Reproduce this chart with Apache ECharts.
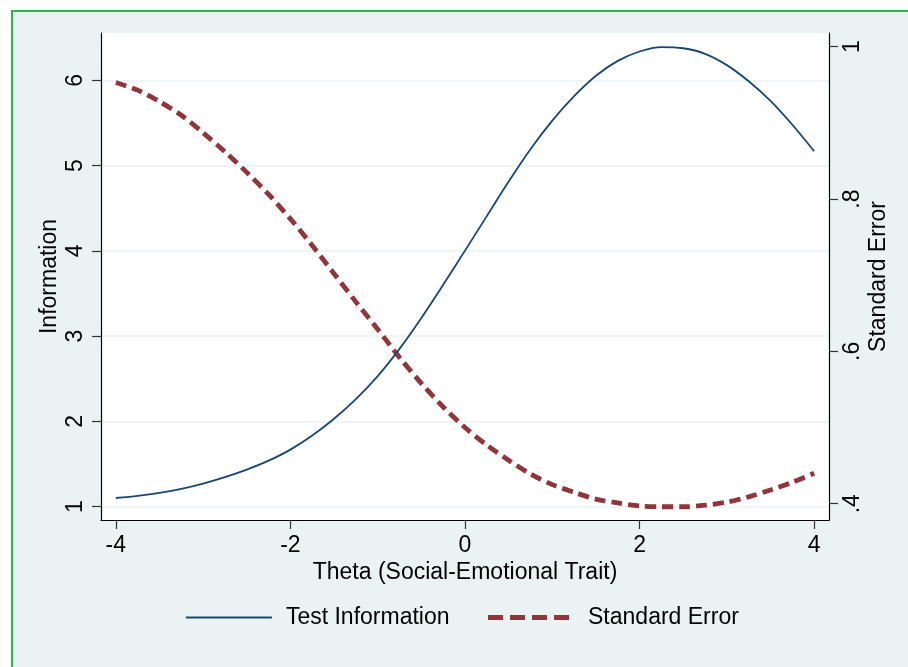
<!DOCTYPE html>
<html>
<head>
<meta charset="utf-8">
<script src="https://cdn.jsdelivr.net/npm/echarts@6/dist/echarts.min.js"></script>
<style>
  html, body { margin: 0; padding: 0; background: #ffffff; }
  #frame { position: absolute; left: 11px; top: 10px; width: 1000px; height: 1000px;
           background: #EAF2F3; border-left: 2px solid #2FB350; border-top: 2px solid #2FB350; box-sizing: border-box; }
  #chart { position: absolute; left: 0; top: 0; width: 908px; height: 667px; }
</style>
</head>
<body>
<div id="frame"></div>
<div id="chart"></div>
<script>
// Theta grid and values
var theta = [-4, -3.75, -3.5, -3.25, -3, -2.75, -2.5, -2.25, -2, -1.75, -1.5, -1.25, -1, -0.75, -0.5, -0.25,
             0, 0.25, 0.5, 0.75, 1, 1.25, 1.5, 1.75, 2, 2.25, 2.5, 2.75, 3, 3.25, 3.5, 3.75, 4];
var testInformation = [1.100, 1.125, 1.160, 1.208, 1.270, 1.345, 1.433, 1.538, 1.668, 1.833, 2.030, 2.260, 2.530, 2.850, 3.213, 3.603,
                       4.003, 4.408, 4.813, 5.193, 5.528, 5.815, 6.055, 6.230, 6.340, 6.392, 6.378, 6.313, 6.180, 5.990, 5.760, 5.480, 5.170];
var standardError = [0.953, 0.943, 0.928, 0.910, 0.887, 0.862, 0.835, 0.806, 0.774, 0.739, 0.702, 0.665, 0.629, 0.592, 0.558, 0.527,
                     0.500, 0.477, 0.457, 0.439, 0.425, 0.415, 0.406, 0.401, 0.397, 0.396, 0.396, 0.398, 0.402, 0.409, 0.418, 0.428, 0.440];

var xTicks = [-4, -2, 0, 2, 4];
var infoTicks = [1, 2, 3, 4, 5, 6];
var seTicks = [0.4, 0.6, 0.8, 1];
var seTickLabels = ['.4', '.6', '.8', '1'];

var FONT = "'Liberation Sans', Arial, Helvetica, sans-serif";
var FS = 23;
var BLUE = '#1A476F';
var RED = '#90353B';

function pairs(xs, ys) { return xs.map(function (x, i) { return [x, ys[i]]; }); }

var chart = echarts.init(document.getElementById('chart'), null, { renderer: 'canvas' });
chart.setOption({
  backgroundColor: 'transparent',
  animation: false,
  textStyle: { fontFamily: FONT, color: '#000' },
  grid: {
    left: 101, top: 33, width: 728, height: 487,
    show: true, backgroundColor: '#ffffff', borderWidth: 0
  },
  xAxis: {
    type: 'value', min: -4.17, max: 4.17,
    name: 'Theta (Social-Emotional Trait)', nameLocation: 'middle', nameGap: 41, nameMoveOverlap: false,
    nameTextStyle: { fontSize: FS, color: '#000', fontFamily: FONT },
    axisLine: { show: true, onZero: false, lineStyle: { color: '#000', width: 1.2 } },
    axisTick: { show: true, length: 9, customValues: xTicks, lineStyle: { color: '#333', width: 1.2 } },
    axisLabel: { customValues: xTicks, fontSize: FS, color: '#000', margin: 14, fontFamily: FONT },
    splitLine: { show: false }
  },
  yAxis: [
    {
      type: 'value', position: 'left', min: 0.842, max: 6.557,
      name: 'Information', nameLocation: 'middle', nameGap: 40, nameMoveOverlap: false,
      nameTextStyle: { fontSize: FS, color: '#000', fontFamily: FONT },
      axisLine: { show: true, onZero: false, lineStyle: { color: '#000', width: 1.2 } },
      axisTick: { show: true, length: 9, customValues: infoTicks, lineStyle: { color: '#333', width: 1.2 } },
      axisLabel: { customValues: infoTicks, rotate: 90, fontSize: FS, color: '#000', margin: 14, fontFamily: FONT },
      splitLine: { show: true, lineStyle: { color: '#EAF2F3', width: 1.5 } }
    },
    {
      type: 'value', position: 'right', min: 0.3786, max: 1.018,
      name: 'Standard Error', nameLocation: 'middle', nameGap: 38, nameMoveOverlap: false,
      nameTextStyle: { fontSize: FS, color: '#000', fontFamily: FONT },
      axisLine: { show: true, onZero: false, lineStyle: { color: '#000', width: 1.2 } },
      axisTick: { show: true, length: 9, customValues: seTicks, lineStyle: { color: '#333', width: 1.2 } },
      axisLabel: {
        customValues: seTicks, rotate: 90, fontSize: FS, color: '#000', margin: 12, fontFamily: FONT,
        formatter: function (v) {
          for (var i = 0; i < seTicks.length; i++) { if (Math.abs(seTicks[i] - v) < 1e-6) return seTickLabels[i]; }
          return '';
        }
      },
      splitLine: { show: false }
    }
  ],
  legend: {
    left: 185, top: 606, padding: 0, itemWidth: 86, itemHeight: 22, itemGap: 36,
    textStyle: { fontSize: FS, color: '#000', fontFamily: FONT, padding: [0, 0, 0, 9] },
    data: [
      { name: 'Test Information', itemStyle: { color: 'rgba(0,0,0,0)', borderWidth: 0, opacity: 0 },
        lineStyle: { width: 1.8, color: BLUE, type: 'solid' } },
      { name: 'Standard Error', itemStyle: { color: 'rgba(0,0,0,0)', borderWidth: 0, opacity: 0 },
        lineStyle: { width: 5, color: RED, type: [15, 7] } }
    ]
  },
  series: [
    {
      name: 'Test Information', type: 'line', xAxisIndex: 0, yAxisIndex: 0,
      data: pairs(theta, testInformation), smooth: 0.3, showSymbol: false, symbol: 'none',
      lineStyle: { color: BLUE, width: 1.8 }, itemStyle: { color: BLUE }, z: 3
    },
    {
      name: 'Standard Error', type: 'line', xAxisIndex: 0, yAxisIndex: 1,
      data: pairs(theta, standardError), smooth: 0.3, showSymbol: false, symbol: 'none',
      lineStyle: { color: RED, width: 4.8, type: [11, 6] }, itemStyle: { color: RED }, z: 2
    }
  ]
});
</script>
</body>
</html>
